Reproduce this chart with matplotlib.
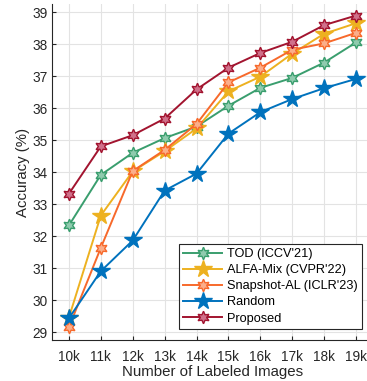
import numpy as np
import matplotlib
matplotlib.use("Agg")
import matplotlib.pyplot as plt

plt.rcParams['font.family'] = ['Liberation Sans', 'DejaVu Sans']

# data
x = [10, 11, 12, 13, 14, 15, 16, 17, 18, 19]
xlabels = ['10k', '11k', '12k', '13k', '14k', '15k', '16k', '17k', '18k', '19k']

tod = [32.33, 33.91, 34.60, 35.06, 35.42, 36.07, 36.63, 36.94, 37.42, 38.05]
alfa = [29.45, 32.64, 34.02, 34.65, 35.36, 36.52, 36.98, 37.70, 38.32, 38.65]
snap = [29.15, 31.63, 34.03, 34.69, 35.50, 36.80, 37.26, 37.82, 38.02, 38.35]
rand = [29.43, 30.90, 31.86, 33.42, 33.95, 35.20, 35.87, 36.28, 36.62, 36.91]
prop = [33.32, 34.80, 35.15, 35.67, 36.58, 37.26, 37.72, 38.07, 38.59, 38.89]

names = ["TOD (ICCV'21)", "ALFA-Mix (CVPR'22)", "Snapshot-AL (ICLR'23)", "Random", "Proposed"]
colors = ['#3A9E6E', '#EDB120', '#F7692B', '#0072BD', '#A2142F']
faces = ['#8FCBAE', '#EDB120', '#FBAE8A', '#0072BD', '#D0708A']
hexa = (6, 1, 0)
markers = [hexa, '*', hexa, '*', hexa]
msizes = [9, 13, 9, 13, 9]

fig = plt.figure(figsize=(3.67, 3.81), dpi=100)
ax = fig.add_axes([52 / 367, 41 / 381, 321 / 367, 336 / 381])

for ys, name, c, fc, m, ms in zip([tod, alfa, snap, rand, prop], names, colors, faces, markers, msizes):
    ax.plot(x, ys, color=c, lw=1.4, marker=m, ms=ms, mfc=fc, mec=c, mew=1.0, label=name)

ax.set_xlim(9.47, 19.53)
ax.set_ylim(28.75, 39.25)
ax.set_xticks(x)
ax.set_xticklabels(xlabels)
ax.set_yticks(range(29, 40))
ax.grid(True, color='#e3e3e3', lw=0.8)
ax.set_axisbelow(True)
for s in ['top', 'right']:
    ax.spines[s].set_visible(False)
for s in ['left', 'bottom']:
    ax.spines[s].set_color('#262626')
    ax.spines[s].set_linewidth(0.8)
ax.tick_params(direction='in', length=3, colors='#262626', labelsize=9.8)
ax.tick_params(axis='x', pad=7)
ax.tick_params(axis='y', pad=3)

ax.set_xlabel('Number of Labeled Images', fontsize=10.8, color='#262626', labelpad=1)
ax.set_ylabel('Accuracy (%)', fontsize=10.8, color='#262626', labelpad=2)

leg = ax.legend(loc='lower right', bbox_to_anchor=(362 / 367, 52 / 381), bbox_transform=fig.transFigure,
                borderaxespad=0, fancybox=False, fontsize=9.2, handlelength=3.0, handletextpad=0.4,
                labelspacing=0.32, borderpad=0.35, framealpha=1)
leg.get_frame().set_edgecolor('#262626')
leg.get_frame().set_linewidth(0.8)

fig.savefig('out.png', dpi=100)
